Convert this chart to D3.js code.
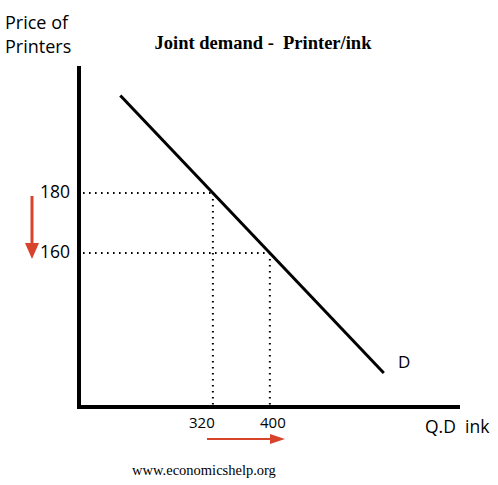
<!DOCTYPE html>
<html><head><meta charset="utf-8">
<script src="https://cdn.jsdelivr.net/npm/d3@7"></script>
<style>body{margin:0;background:#fff}svg{display:block}text{white-space:pre}</style>
</head><body>
<script>
const priceTicks = [180, 160];
const qtyTicks = [320, 400];
const equilibria = [{q:320, p:180}, {q:400, p:160}];
const demandLine = [{q:190, p:212.5}, {q:560, p:120}];
const title = "Joint demand -  Printer/ink";
const yLabel = ["Price of", "Printers"];
const xLabel = "Q.D  ink";
const curveLabel = "D";
const source = "www.economicshelp.org";

const W = 498, H = 485;
const svg = d3.select("body").append("svg").attr("width", W).attr("height", H);
const x = d3.scaleLinear().domain([132, 667]).range([79, 460]);
const y = d3.scaleLinear().domain([108.7, 222.3]).range([407, 66]);
const red = "#d8432c";
const sans = "'Open Sans', 'Noto Sans', sans-serif";
const serif = "'Liberation Serif', 'DejaVu Serif', serif";

// dotted guides
const dot = {stroke:"#000", "stroke-width":2, "stroke-dasharray":"1.6 4.4"};
equilibria.forEach(e => {
  const h = svg.append("line").attr("x1", x.range()[0]+4).attr("x2", x(e.q)).attr("y1", y(e.p)).attr("y2", y(e.p));
  const v = svg.append("line").attr("x1", x(e.q)).attr("x2", x(e.q)).attr("y1", y(e.p)).attr("y2", y.range()[0]-2);
  for (const k in dot) { h.attr(k, dot[k]); v.attr(k, dot[k]); }
});

// axes
svg.append("line").attr("x1", x.range()[0]).attr("x2", x.range()[0]).attr("y1", y.range()[1]).attr("y2", y.range()[0]+2)
  .attr("stroke", "#000").attr("stroke-width", 4);
svg.append("line").attr("x1", x.range()[0]-2).attr("x2", x.range()[1]).attr("y1", y.range()[0]).attr("y2", y.range()[0])
  .attr("stroke", "#000").attr("stroke-width", 4);

// demand line
svg.append("path").datum(demandLine)
  .attr("d", d3.line().x(d => x(d.q)).y(d => y(d.p)))
  .attr("stroke", "#000").attr("stroke-width", 3).attr("fill", "none");

// tick labels
svg.selectAll(".pt").data(priceTicks).enter().append("text")
  .attr("x", 70).attr("y", d => y(d)).attr("dy", "0.3em").attr("text-anchor", "end")
  .attr("font-family", sans).attr("font-size", 17.5).text(d => d);
svg.selectAll(".qt").data(qtyTicks).enter().append("text")
  .attr("x", (d, i) => x(d) + (i === 0 ? -11 : 3)).attr("y", 428).attr("text-anchor", "middle")
  .attr("font-family", sans).attr("font-size", 15).text(d => d);

// labels
svg.append("text").attr("x", 263).attr("y", 49).attr("text-anchor", "middle")
  .attr("font-family", serif).attr("font-weight", "bold").attr("font-size", 18.5).text(title);
yLabel.forEach((t, i) => svg.append("text").attr("x", 5).attr("y", 29 + i*24)
  .attr("font-family", sans).attr("font-size", 18).text(t));
svg.append("text").attr("x", 425).attr("y", 433).attr("font-family", sans).attr("font-size", 17.5).text(xLabel);
svg.append("text").attr("x", 398).attr("y", 368).attr("font-family", sans).attr("font-size", 17).text(curveLabel);
svg.append("text").attr("x", 204).attr("y", 475).attr("text-anchor", "middle")
  .attr("font-family", serif).attr("font-size", 14.5).text(source);

// red arrows
svg.append("line").attr("x1", 32).attr("x2", 32).attr("y1", 196).attr("y2", 245).attr("stroke", red).attr("stroke-width", 3);
svg.append("path").attr("d", "M25,243 L39,243 L32,259 Z").attr("fill", red);
svg.append("line").attr("x1", 207).attr("x2", 272).attr("y1", 439).attr("y2", 439).attr("stroke", red).attr("stroke-width", 2);
svg.append("path").attr("d", "M270,434 L285,439 L270,444 Z").attr("fill", red);
</script>
</body></html>
